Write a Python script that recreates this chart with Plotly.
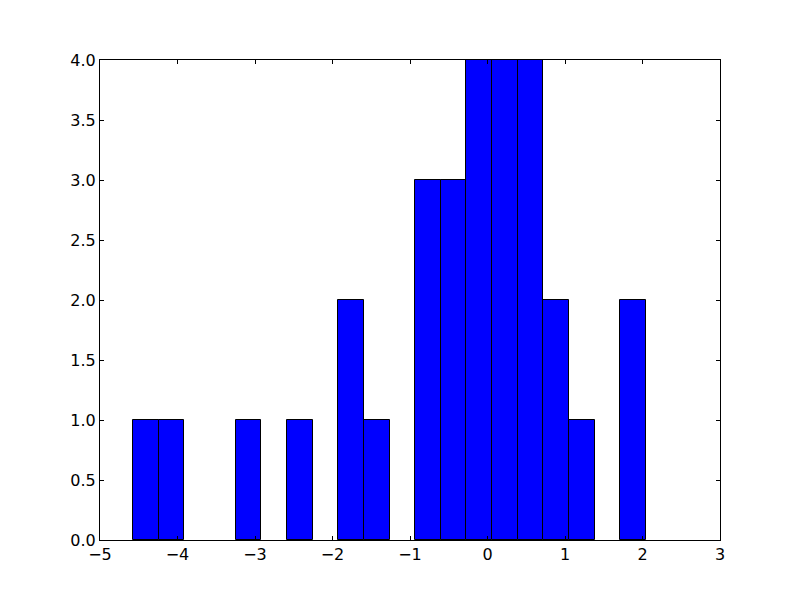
import numpy as np
import plotly.graph_objects as go

# Histogram data (20 bins)
bin_lo = -4.574
bin_hi = 2.045
counts = [1, 1, 0, 0, 1, 0, 1, 0, 2, 1, 0, 3, 3, 4, 4, 4, 2, 1, 0, 2]

x_ticks = [-5, -4, -3, -2, -1, 0, 1, 2, 3]
y_ticks = [0.0, 0.5, 1.0, 1.5, 2.0, 2.5, 3.0, 3.5, 4.0]

edges = np.linspace(bin_lo, bin_hi, len(counts) + 1)
centers = (edges[:-1] + edges[1:]) / 2
width = edges[1] - edges[0]

fig = go.Figure(go.Bar(
    x=centers, y=counts, width=width,
    marker=dict(color="#0000ff",
                line=dict(color="black", width=[1 if c > 0 else 0 for c in counts])),
))

axis_common = dict(
    showgrid=False, zeroline=False, showline=True, linecolor="black", linewidth=1,
    mirror="ticks", ticks="inside", ticklen=4, tickcolor="black",
    tickfont=dict(family="DejaVu Sans", size=16, color="black"),
)
fig.update_xaxes(range=[-5, 3], tickvals=x_ticks, ticktext=[str(v).replace("-", "\u2212") for v in x_ticks], **axis_common)
fig.update_yaxes(range=[0, 4], tickvals=y_ticks, ticktext=[f"{v:.1f}" for v in y_ticks], **axis_common)
fig.update_layout(
    width=800, height=600,
    margin=dict(l=92, r=88, t=52, b=68),
    plot_bgcolor="white", paper_bgcolor="white",
    showlegend=False, bargap=0,
)
fig.write_html("out.html")
